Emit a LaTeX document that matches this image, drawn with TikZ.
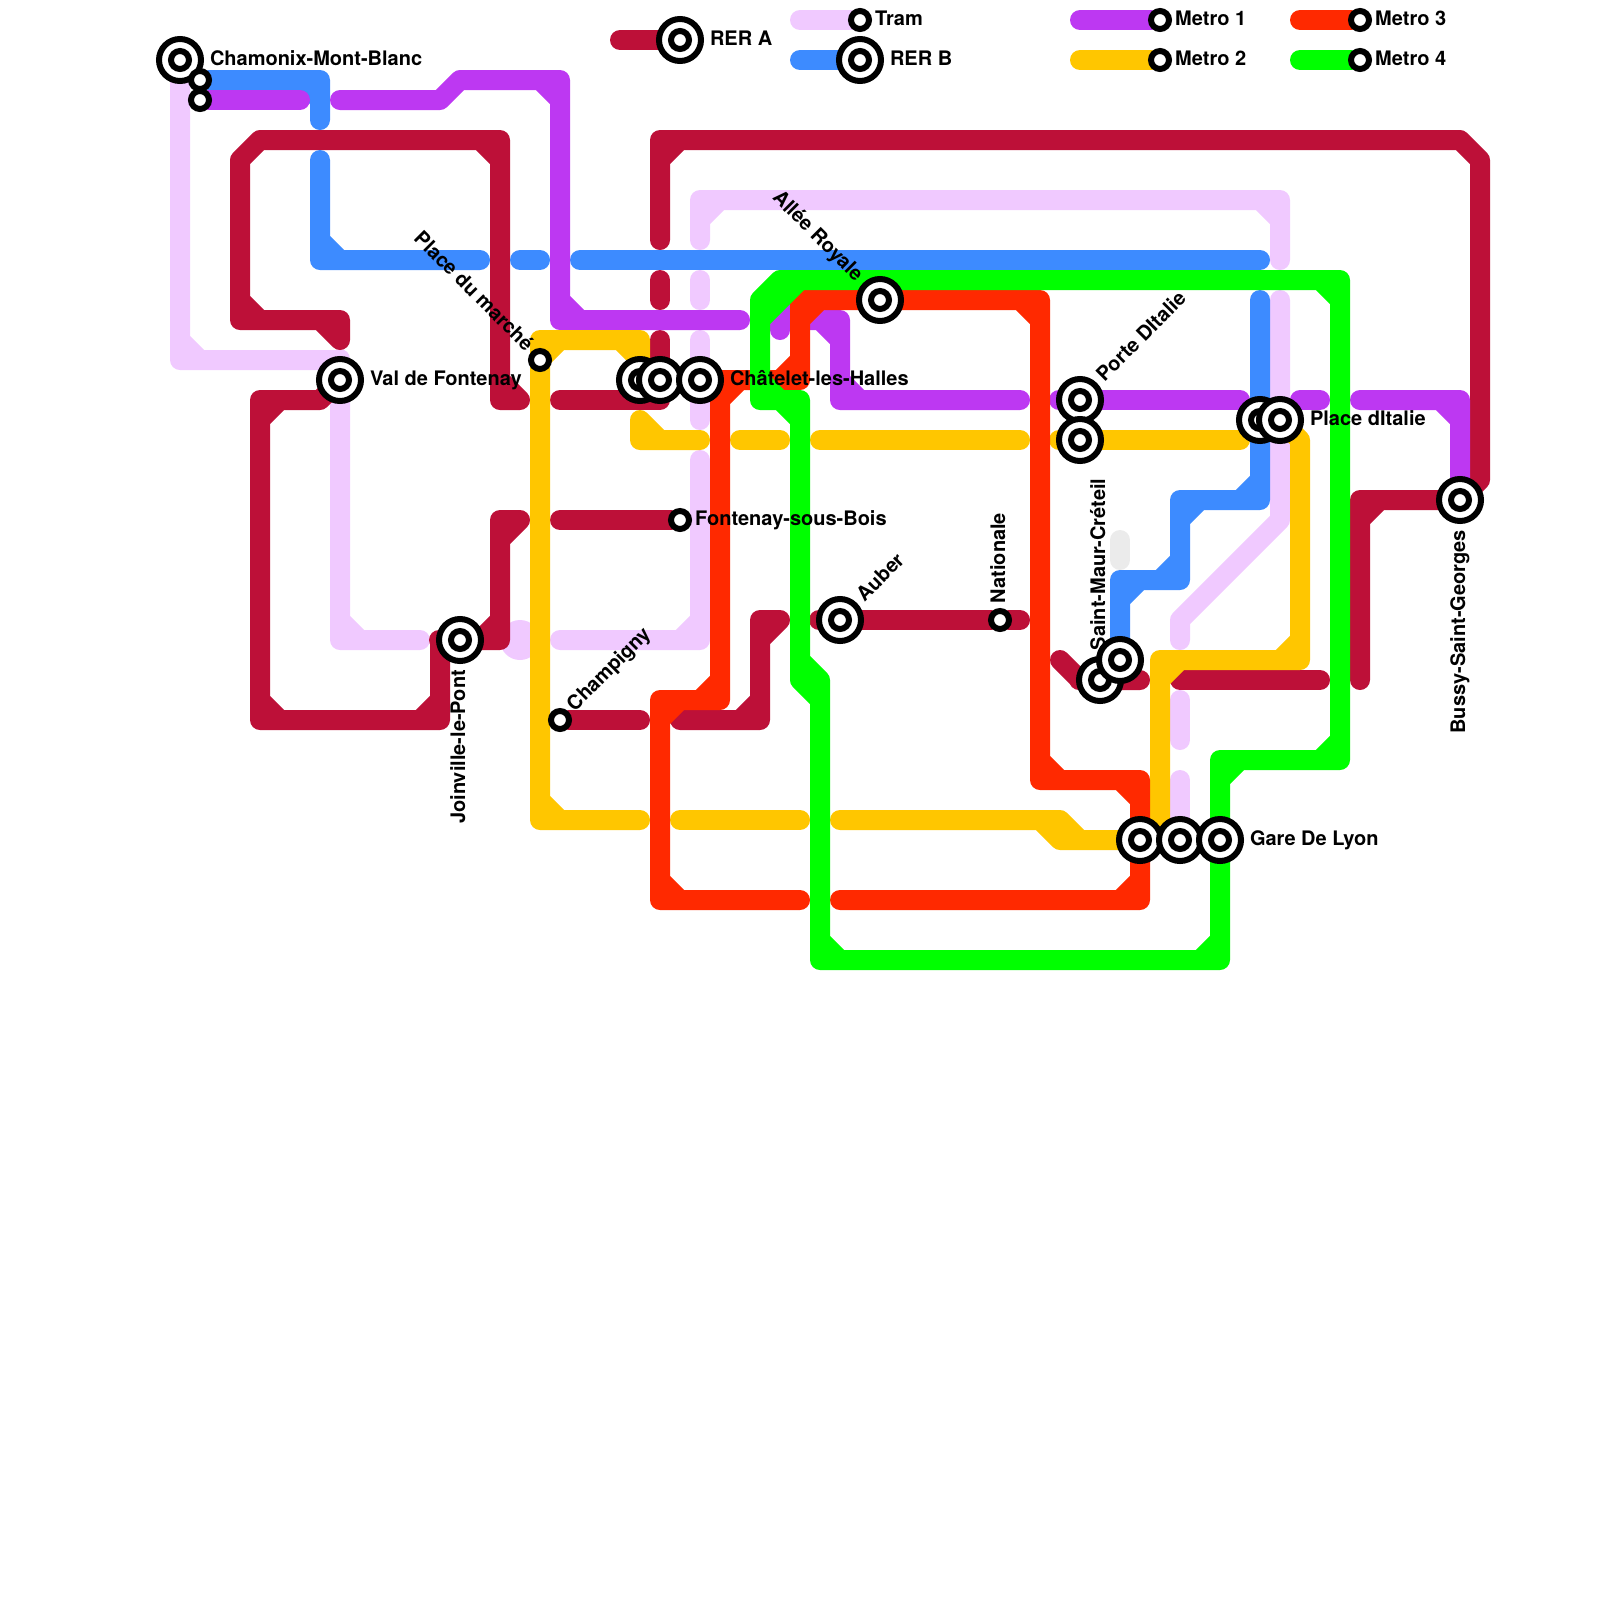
\documentclass[tikz,border=0pt]{standalone}
\usepackage{fontspec}
\setmainfont{TeX Gyre Heros}
\usepackage{tikz}
\usepackage{xcolor}
\usetikzlibrary{backgrounds}
\definecolor{colRerA}{RGB}{189,16,56}
\definecolor{colRerB}{RGB}{61,139,255}
\definecolor{colTram}{RGB}{240,201,255}
\definecolor{colMetroA}{RGB}{189,56,242}
\definecolor{colMetroB}{RGB}{255,198,0}
\definecolor{colMetroC}{RGB}{255,41,0}
\definecolor{colMetroD}{RGB}{0,255,0}
\definecolor{colGhost}{RGB}{235,235,235}

\begin{document}
\begin{tikzpicture}[
  x=0.25cm, y=-0.25cm,
  hub/.style={circle, draw=black, fill=white, line width=0.75mm, minimum size=5.25mm,
              inner sep=0pt, outer sep=0pt,
              path picture={\draw[black, line width=0.75mm] (path picture bounding box.center) circle (1.125mm);}},
  halt/.style={circle, draw=black, fill=white, line width=0.75mm, minimum size=2.25mm,
               inner sep=0pt, outer sep=0pt},
  route/.style={line width=2.5mm, line cap=round, line join=round},
  lbl/.style={inner sep=0pt, outer sep=0pt, font=\fontsize{7.11pt}{8.5pt}\selectfont\bfseries},
  lblhub/.style={lbl, anchor=base west, xshift=3.75mm, yshift=-0.625mm},
  lblhalt/.style={lbl, anchor=base west, xshift=1.9mm, yshift=-0.625mm},
  lblup/.style={lbl, rotate=90, anchor=base west},
  lbldown/.style={lbl, rotate=90, anchor=base east},
  lblrise/.style={lbl, rotate=45, anchor=base west},
  lbldrop/.style={lbl, rotate=-45, anchor=base east},
]
\useasboundingbox (0,0) rectangle (80,80);

% stations
\node[hub] (chamonix) at (9,3) {};
\node[halt] (chamonixA) at (10,4) {};
\node[halt] (chamonixB) at (10,5) {};
\node[hub] (valfontenay) at (17,19) {};
\node[hub] (joinville) at (23,32) {};
\node[halt] (placemarche) at (27,18) {};
\node[hub] (chateletA) at (32,19) {};
\node[hub] (chateletB) at (33,19) {};
\node[hub] (chateletC) at (35,19) {};
\node[hub] (allee) at (44,15) {};
\node[hub] (auber) at (42,31) {};
\node[halt] (nationale) at (50,31) {};
\node[halt] (fontenay) at (34,26) {};
\node[halt] (champigny) at (28,36) {};
\node[hub] (porteA) at (54,20) {};
\node[hub] (porteB) at (54,22) {};
\node[hub] (italieA) at (63,21) {};
\node[hub] (italieB) at (64,21) {};
\node[hub] (stmaurA) at (55,34) {};
\node[hub] (stmaurB) at (56,33) {};
\node[hub] (gareA) at (57,42) {};
\node[hub] (gareB) at (59,42) {};
\node[hub] (gareC) at (61,42) {};
\node[hub] (bussy) at (73,25) {};

% legend stations
\node[hub] (keyRerA) at (34,2) {};
\node[halt] (keyTram) at (43,1) {};
\node[hub] (keyRerB) at (43,3) {};
\node[halt] (keyMetroA) at (58,1) {};
\node[halt] (keyMetroB) at (58,3) {};
\node[halt] (keyMetroC) at (68,1) {};
\node[halt] (keyMetroD) at (68,3) {};

% free ends
\coordinate (startRerA) at (31,2);
\coordinate (startTram) at (40,1);
\coordinate (startRerB) at (40,3);
\coordinate (startMetroA) at (54,1);
\coordinate (startMetroB) at (54,3);
\coordinate (startMetroC) at (65,1);
\coordinate (startMetroD) at (65,3);
\coordinate (tramA) at (21,32);
\coordinate (tramB) at (28,32);
\coordinate (tramC) at (35,23);
\coordinate (tramD) at (35,17);
\coordinate (tramE) at (35,21);
\coordinate (tramF) at (35,14);
\coordinate (tramG) at (35,15);
\coordinate (tramH) at (35,12);
\coordinate (tramI) at (64,13);
\coordinate (tramJ) at (64,15);
\coordinate (tramK) at (59,32);
\coordinate (tramL) at (59,35);
\coordinate (tramM) at (59,37);
\coordinate (tramN) at (59,39);
\coordinate (ghostA) at (56,27);
\coordinate (ghostB) at (56,28);
\coordinate (rerA) at (26,20);
\coordinate (rerB) at (17,17);
\coordinate (rerC) at (26,26);
\coordinate (rerD) at (28,20);
\coordinate (rerE) at (33,17);
\coordinate (rerF) at (33,14);
\coordinate (rerG) at (33,15);
\coordinate (rerH) at (33,12);
\coordinate (rerI) at (68,34);
\coordinate (rerJ) at (28,26);
\coordinate (rerK) at (32,36);
\coordinate (rerL) at (34,36);
\coordinate (rerM) at (39,31);
\coordinate (rerN) at (41,31);
\coordinate (rerO) at (51,31);
\coordinate (rerP) at (53,33);
\coordinate (rerQ) at (57,34);
\coordinate (rerR) at (59,34);
\coordinate (rerS) at (66,34);
\coordinate (blueA) at (16,6);
\coordinate (blueB) at (16,8);
\coordinate (blueC) at (24,13);
\coordinate (blueD) at (26,13);
\coordinate (blueE) at (27,13);
\coordinate (blueF) at (29,13);
\coordinate (blueG) at (63,13);
\coordinate (blueH) at (63,15);
\coordinate (mauveA) at (15,5);
\coordinate (mauveB) at (17,5);
\coordinate (mauveC) at (37,16);
\coordinate (mauveD) at (39,16.5);
\coordinate (mauveE) at (51,20);
\coordinate (mauveF) at (53,20);
\coordinate (mauveG) at (62,20);
\coordinate (mauveH) at (65,20);
\coordinate (mauveI) at (66,20);
\coordinate (mauveJ) at (68,20);
\coordinate (goldA) at (32,41);
\coordinate (goldB) at (32,21);
\coordinate (goldC) at (35,22);
\coordinate (goldD) at (37,22);
\coordinate (goldE) at (39,22);
\coordinate (goldF) at (41,22);
\coordinate (goldG) at (51,22);
\coordinate (goldH) at (53,22);
\coordinate (goldI) at (62,22);
\coordinate (goldJ) at (34,41);
\coordinate (goldK) at (40,41);
\coordinate (goldL) at (42,41);
\coordinate (redA) at (40,45);
\coordinate (redB) at (42,45);

\begin{scope}[on background layer]
% Tram
\draw[route, colGhost] (ghostA) -- (ghostB);
\draw[route, colTram] (chamonix) -- (9,18) -- (17,18) -- (valfontenay) (9,17) -- (10,18);
\draw[route, colTram] (valfontenay) -- (17,32) -- (tramA) (17,31) -- (18,32);
\node[circle, fill=colTram, minimum size=5mm, inner sep=0pt] (tramdot) at (26,32) {};
\draw[route, colTram] (tramB) -- (35,32) -- (tramC) (34,32) -- (35,31);
\draw[route, colTram] (tramD) -- (chateletC) -- (tramE);
\draw[route, colTram] (tramF) -- (tramG);
\draw[route, colTram] (tramH) -- (35,10) -- (64,10) -- (tramI) (35,11) -- (36,10) (63,10) -- (64,11);
\draw[route, colTram] (tramJ) -- (64,26) -- (59,31) -- (tramK);
\draw[route, colTram] (tramL) -- (tramM);
\draw[route, colTram] (tramN) -- (gareB);
\draw[route, colTram] (startTram) -- (keyTram);

% RER A
\draw[route, colRerA] (rerA) -- (25,20) -- (25,7) -- (13,7) -- (12,8) -- (12,16) -- (17,16) -- (rerB)
  (25,19) -- (26,20) (24,7) -- (25,8) (12,15) -- (13,16) (16,16) -- (17,17);
\draw[route, colRerA] (valfontenay) -- (16,20) -- (13,20) -- (13,36) -- (22,36) -- (22,32) -- (joinville)
  (13,21) -- (14,20) (13,35) -- (14,36) (21,36) -- (22,35);
\draw[route, colRerA] (joinville) -- (25,32) -- (25,26) -- (rerC) (24,32) -- (25,31) (25,27) -- (26,26);
\draw[route, colRerA] (rerD) -- (33,20) -- (rerE);
\draw[route, colRerA] (rerF) -- (rerG);
\draw[route, colRerA] (rerH) -- (33,7) -- (73,7) -- (74,8) -- (74,24) -- (bussy) (33,8) -- (34,7);
\draw[route, colRerA] (bussy) -- (68,25) -- (rerI) (68,26) -- (69,25);
\draw[route, colRerA] (rerJ) -- (fontenay);
\draw[route, colRerA] (champigny) -- (rerK);
\draw[route, colRerA] (rerL) -- (38,36) -- (38,31) -- (rerM) (37,36) -- (38,35) (38,32) -- (39,31);
\draw[route, colRerA] (rerN) -- (auber) -- (nationale) -- (rerO);
\draw[route, colRerA] (rerP) -- (54,34) -- (stmaurA) -- (rerQ);
\draw[route, colRerA] (rerR) -- (rerS);
\draw[route, colRerA] (startRerA) -- (keyRerA);

% RER B
\draw[route, colRerB] (chamonixA) -- (16,4) -- (blueA) (15,4) -- (16,5);
\draw[route, colRerB] (blueB) -- (16,13) -- (blueC) (16,12) -- (17,13);
\draw[route, colRerB] (blueD) -- (blueE);
\draw[route, colRerB] (blueF) -- (blueG);
\draw[route, colRerB] (blueH) -- (italieA) -- (63,25) -- (59,25) -- (59,29) -- (56,29) -- (stmaurB)
  (62,25) -- (63,24) (59,26) -- (60,25) (58,29) -- (59,28) (56,30) -- (57,29);
\draw[route, colRerB] (startRerB) -- (keyRerB);

% Metro 1
\draw[route, colMetroA] (chamonixB) -- (mauveA);
\draw[route, colMetroA] (mauveB) -- (22,5) -- (23,4) -- (28,4) -- (28,16) -- (mauveC) (27,4) -- (28,5) (28,15) -- (29,16);
\draw[route, colMetroA] (mauveD) -- (39,15.5) -- (40,16) -- (42,16) -- (42,20) -- (mauveE) (41,16) -- (42,17) (42,19) -- (43,20);
\draw[route, colMetroA] (mauveF) -- (porteA) -- (mauveG);
\draw[route, colMetroA] (mauveH) -- (mauveI);
\draw[route, colMetroA] (mauveJ) -- (73,20) -- (bussy) (72,20) -- (73,21);
\draw[route, colMetroA] (startMetroA) -- (keyMetroA);

% Metro 2
\draw[route, colMetroB] (goldA) -- (27,41) -- (27,17) -- (32,17) -- (chateletA) (27,40) -- (28,41) (27,18) -- (28,17) (31,17) -- (32,18);
\draw[route, colMetroB] (goldB) -- (32,22) -- (goldC) (32,21) -- (33,22);
\draw[route, colMetroB] (goldD) -- (goldE);
\draw[route, colMetroB] (goldF) -- (goldG);
\draw[route, colMetroB] (goldH) -- (porteB) -- (goldI);
\draw[route, colMetroB] (italieB) -- (65,22) -- (65,33) -- (58,33) -- (58,41) -- (gareA) (64,33) -- (65,32) (58,34) -- (59,33);
\draw[route, colMetroB] (goldJ) -- (goldK);
\draw[route, colMetroB] (goldL) -- (53,41) -- (53,42) -- (gareA) (52,41) -- (53,42) (53,41) -- (54,42);
\draw[route, colMetroB] (startMetroB) -- (keyMetroB);

% Metro 3
\draw[route, colMetroC] (redA) -- (33,45) -- (33,35) -- (36,35) -- (36,19) -- (40,19) -- (40,15) -- (allee) -- (52,15) -- (52,39) -- (57,39) -- (gareA) -- (57,45) -- (redB)
  (33,44) -- (34,45) (33,36) -- (34,35) (35,35) -- (36,34) (36,20) -- (37,19) (39,19) -- (40,18)
  (40,16) -- (41,15) (51,15) -- (52,16) (52,38) -- (53,39) (56,39) -- (57,40) (56,45) -- (57,44);
\draw[route, colMetroC] (startMetroC) -- (keyMetroC);

% Metro 4
\draw[route, colMetroD] (38,15) -- (39,14) -- (67,14) -- (67,38) -- (61,38) -- (gareC) -- (61,48) -- (41,48) -- (41,34) -- (40,34) -- (40,20) -- (38,20) -- (38,15)
  (38,16) -- (40,14) (66,14) -- (67,15) (66,38) -- (67,37) (61,39) -- (62,38) (60,48) -- (61,47)
  (41,47) -- (42,48) (40,33) -- (41,34) (40,34) -- (41,35) (38,19) -- (39,20) (39,20) -- (40,21);
\draw[route, colMetroD] (startMetroD) -- (keyMetroD);
\end{scope}

% labels
\node[lblhub] (chamonixlbl) at (chamonix) {Chamonix-Mont-Blanc};
\node[lblhub] (valfontenaylbl) at (valfontenay) {Val de Fontenay};
\node[lblhub] (chateletlbl) at (chateletC) {Châtelet-les-Halles};
\node[lblhalt] (fontenaylbl) at (fontenay) {Fontenay-sous-Bois};
\node[lblhub] (italielbl) at (italieB) {Place dItalie};
\node[lblhub] (garelbl) at (gareC) {Gare De Lyon};
\node[xshift=0.625mm, yshift=-3.75mm, lbldown] (joinvillelbl) at (joinville) {Joinville-le-Pont};
\node[xshift=0.625mm, yshift=2.1mm, lblup] (nationalelbl) at (nationale) {Nationale};
\node[xshift=0.625mm, yshift=3.75mm, lblup] (stmaurlbl) at (stmaurA) {Saint-Maur-Créteil};
\node[xshift=0.625mm, yshift=-3.75mm, lbldown] (bussylbl) at (bussy) {Bussy-Saint-Georges};
\node[xshift=3.09mm, yshift=2.21mm, lblrise] (auberlbl) at (auber) {Auber};
\node[xshift=3.09mm, yshift=2.21mm, lblrise] (portelbl) at (porteA) {Porte DItalie};
\node[xshift=1.85mm, yshift=0.98mm, lblrise] (champignylbl) at (champigny) {Champigny};
\node[xshift=-3.09mm, yshift=2.21mm, lbldrop] (alleelbl) at (allee) {Allée Royale};
\node[xshift=-1.85mm, yshift=0.98mm, lbldrop] (placemarchelbl) at (placemarche) {Place du marché};

\node[lblhub] (keyRerAlbl) at (keyRerA) {RER A};
\node[lblhalt] (keyTramlbl) at (keyTram) {Tram};
\node[lblhub] (keyRerBlbl) at (keyRerB) {RER B};
\node[lblhalt] (keyMetroAlbl) at (keyMetroA) {Metro 1};
\node[lblhalt] (keyMetroBlbl) at (keyMetroB) {Metro 2};
\node[lblhalt] (keyMetroClbl) at (keyMetroC) {Metro 3};
\node[lblhalt] (keyMetroDlbl) at (keyMetroD) {Metro 4};
\end{tikzpicture}
\end{document}
